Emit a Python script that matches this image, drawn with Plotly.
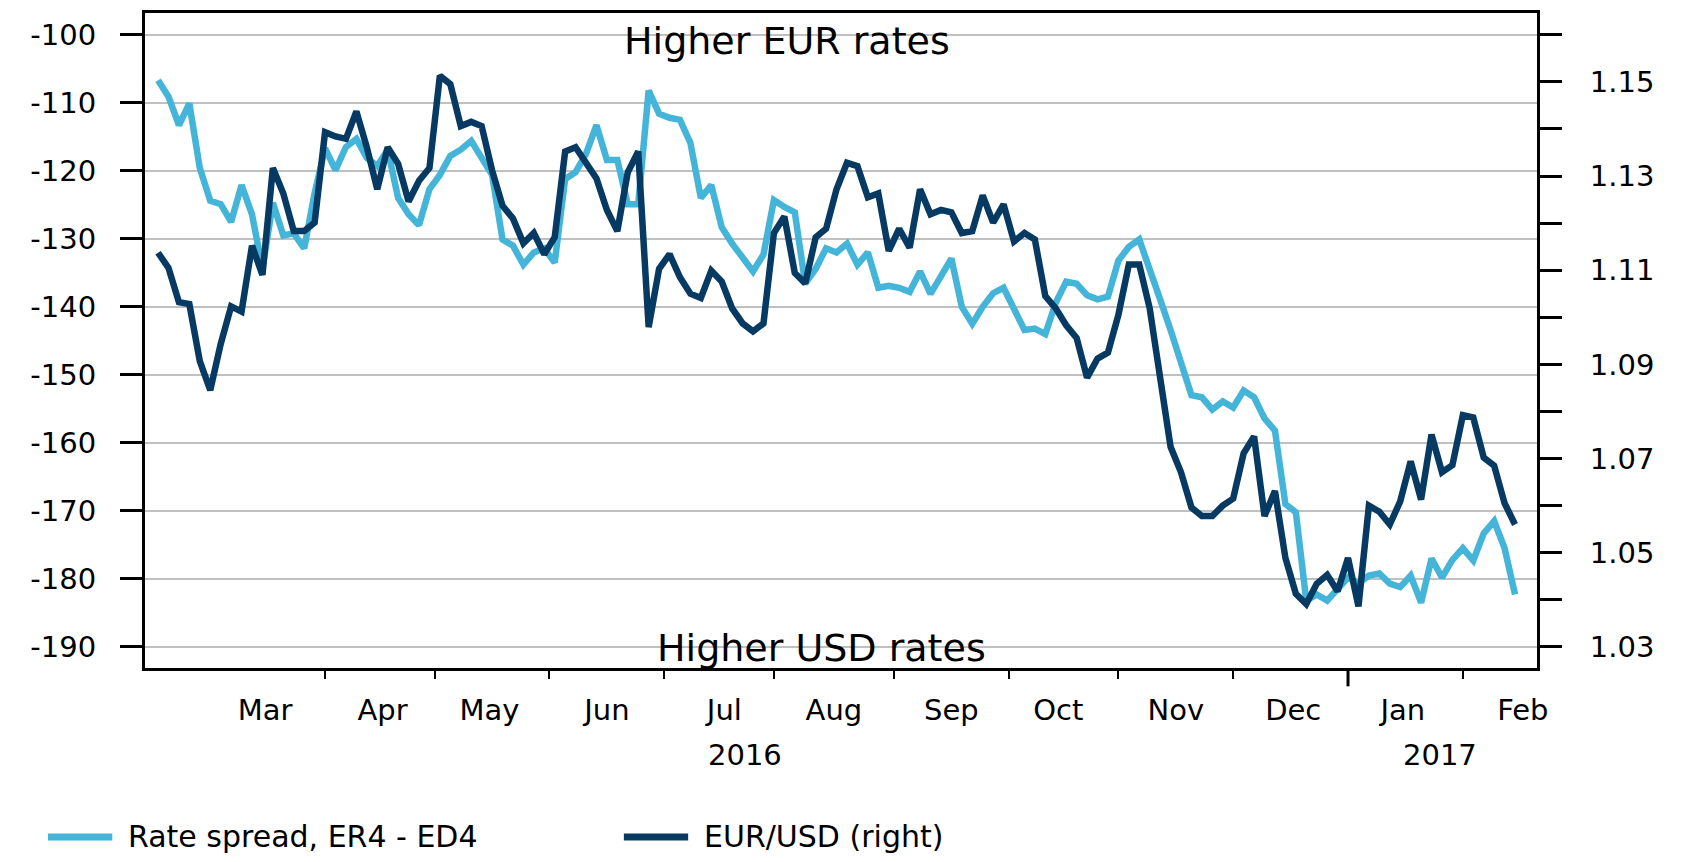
import pandas as pd
import plotly.graph_objects as go


def carregar_dados() -> pd.DataFrame:
    """
    Retorna a tabela de spread de juros e câmbio EUR/USD, lida do gráfico original.

    Um ponto a cada dois dias úteis, de 17/02/2016 a 15/02/2017.
    Spread em pontos-base (ER4 - ED4), câmbio em dólares por euro.

    Returns:
        DataFrame indexado por data, com colunas Spread e EURUSD.
    """
    spread = [
        -106.7, -109.1, -113.3, -110.1, -119.6, -124.4, -124.9, -127.5, -122.1, -126.4,
        -134.4, -124.7, -129.5, -129.2, -131.4, -123.3, -116.7, -119.9,
        -116.5, -115.3, -118.1, -119.3, -116.9, -124.0, -126.4, -128.0, -122.7, -120.6,
        -117.8, -116.9, -115.6, -118.1, -120.6, -130.1, -131.0, -133.8, -132.0,
        -131.4, -133.5, -121.2, -120.2, -117.5, -113.3, -118.4, -118.4, -124.9, -124.9,
        -108.2, -111.6, -112.2, -112.5, -115.9, -124.0, -122.1, -128.3, -130.7,
        -132.9, -134.8, -132.3, -124.3, -125.3, -126.1, -136.6, -134.4, -131.4, -132.0,
        -130.7, -133.8, -132.0, -137.2, -136.9, -137.2, -137.8, -134.8,
        -138.1, -135.4, -132.9, -140.0, -142.5, -140.0, -138.0, -137.2, -140.3, -143.4,
        -143.2, -144.0, -139.4, -136.3, -136.6, -138.3, -138.9, -138.5, -133.2,
        -131.2, -130.1, -134.8, -138.9, -143.4, -148.3, -153.0, -153.3, -155.1, -153.9,
        -154.8, -152.3, -153.3, -156.4, -158.2, -169.0, -170.2, -183.2, -182.3,
        -183.2, -181.4, -179.8, -180.7, -179.5, -179.2, -180.7, -181.2, -179.5, -183.5,
        -177.0, -179.8, -177.2, -175.5, -177.3, -173.3, -171.5, -175.5, -182.3,
    ]
    eurusd = [
        1.1137, 1.1105, 1.1032, 1.1028, 1.0907, 1.0845, 1.0943, 1.1023, 1.1012, 1.1152,
        1.1090, 1.1317, 1.1263, 1.1183, 1.1183, 1.1201, 1.1393, 1.1384,
        1.1379, 1.1437, 1.1361, 1.1272, 1.1361, 1.1326, 1.1246, 1.1290, 1.1317, 1.1513,
        1.1495, 1.1406, 1.1415, 1.1406, 1.1312, 1.1237, 1.1210, 1.1157, 1.1179,
        1.1134, 1.1170, 1.1352, 1.1361, 1.1330, 1.1295, 1.1228, 1.1183, 1.1308, 1.1352,
        1.0979, 1.1103, 1.1134, 1.1085, 1.1050, 1.1041, 1.1099, 1.1076, 1.1019,
        1.0987, 1.0970, 1.0987, 1.1179, 1.1214, 1.1094, 1.1072, 1.1170, 1.1188, 1.1272,
        1.1328, 1.1321, 1.1255, 1.1263, 1.1141, 1.1188, 1.1148, 1.1272,
        1.1219, 1.1228, 1.1223, 1.1179, 1.1183, 1.1259, 1.1201, 1.1240, 1.1161, 1.1179,
        1.1165, 1.1045, 1.1019, 1.0983, 1.0956, 1.0872, 1.0912, 1.0925, 1.1005,
        1.1112, 1.1112, 1.1019, 1.0872, 1.0725, 1.0671, 1.0596, 1.0578, 1.0578, 1.0600,
        1.0615, 1.0711, 1.0747, 1.0578, 1.0631, 1.0489, 1.0413, 1.0391, 1.0434,
        1.0453, 1.0418, 1.0489, 1.0386, 1.0600, 1.0587, 1.0560, 1.0609, 1.0694, 1.0613,
        1.0751, 1.0671, 1.0686, 1.0792, 1.0787, 1.0702, 1.0685, 1.0605, 1.0560,
    ]
    datas = pd.bdate_range("2016-02-17", periods=len(spread), freq="2B")
    return pd.DataFrame({"Spread": spread, "EURUSD": eurusd}, index=datas)


def grafico_spread_eurusd(df: pd.DataFrame) -> go.Figure:
    """
    Retorna linhas do spread de juros (eixo esquerdo) e do EUR/USD (eixo direito).

    O eixo de datas pula fins de semana, como nos gráficos de dias úteis,
    e os dois eixos verticais são alinhados: -100 com 1.16 e -190 com 1.03.
    A legenda é desenhada à mão embaixo, com traços longos como no original.

    Args:
        df: DataFrame retornado por carregar_dados, com colunas Spread e EURUSD.

    Returns:
        Figure com duas linhas, legenda embaixo e anotações de leitura.
    """
    fonte = dict(family="DejaVu Sans", size=29, color="black")
    series = [
        ("Spread", "Rate spread, ER4 - ED4", "#44B4D9", "y"),
        ("EURUSD", "EUR/USD (right)", "#063A63", "y2"),
    ]

    fig = go.Figure()

    for coluna, nome, cor, eixo in series:
        fig.add_trace(
            go.Scatter(
                x=df.index,
                y=df[coluna],
                mode="lines",
                name=nome,
                yaxis=eixo,
                line=dict(color=cor, width=6.5),
            )
        )

    esquerda = list(range(-190, -99, 10))
    direita = [round(1.03 + 0.01 * i, 2) for i in range(14)]

    fig.update_layout(
        template="plotly_white",
        width=1669,
        height=846,
        margin=dict(l=137, r=140, t=2, b=186),
        font=fonte,
        plot_bgcolor="white",
        showlegend=False,
        xaxis=dict(
            type="date",
            range=["2016-02-12 12:00", "2017-02-21 05:00"],
            rangebreaks=[dict(bounds=["sat", "mon"])],
            dtick="M1", tick0="2016-01-01",
            tickformat="%b",
            ticklabelmode="period",
            ticks="outside", ticklen=8, tickwidth=2, tickcolor="black",
            ticklabelstandoff=6,
            showline=True, linewidth=3, linecolor="black", mirror=True,
            showgrid=False, zeroline=False,
        ),
        yaxis=dict(
            range=[-193.1, -96.8],
            tickvals=esquerda,
            ticktext=[str(v) for v in esquerda],
            ticks="outside", ticklen=22, tickwidth=3, tickcolor="black",
            ticklabelstandoff=18,
            showline=True, linewidth=3, linecolor="black",
            showgrid=True, gridcolor="#C0C0C0", gridwidth=2,
            zeroline=False,
        ),
        yaxis2=dict(
            overlaying="y", side="right",
            range=[1.02552, 1.16462],
            tickvals=direita,
            ticktext=[f"{v:.2f}" if i % 2 == 0 else "" for i, v in enumerate(direita)],
            ticks="outside", ticklen=22, tickwidth=3, tickcolor="black",
            ticklabelstandoff=22,
            showline=True, linewidth=3, linecolor="black",
            showgrid=False, zeroline=False,
        ),
    )

    # traço longo na virada do ano
    fig.add_shape(
        type="line", xref="x", yref="paper",
        x0="2017-01-02", x1="2017-01-02", y0=0, y1=-0.028,
        line=dict(color="black", width=3),
    )

    # legenda: traço + texto para cada série
    for (coluna, nome, cor, eixo), x0 in zip(series, [-0.0697, 0.344]):
        fig.add_shape(
            type="line", xref="paper", yref="paper",
            x0=x0, x1=x0 + 0.0462, y0=-0.258, y1=-0.258,
            line=dict(color=cor, width=7),
        )
        fig.add_annotation(text=nome, xref="paper", yref="paper",
                           x=x0 + 0.0562, y=-0.258, xanchor="left", yanchor="middle",
                           showarrow=False, font=dict(size=30))

    fig.add_annotation(text="Higher EUR rates", xref="paper", yref="paper",
                       x=0.461, y=0.958, xanchor="center", yanchor="middle",
                       showarrow=False, font=dict(size=38))
    fig.add_annotation(text="Higher USD rates", xref="paper", yref="paper",
                       x=0.486, y=0.030, xanchor="center", yanchor="middle",
                       showarrow=False, font=dict(size=38))
    fig.add_annotation(text="2016", xref="paper", yref="paper",
                       x=0.431, y=-0.133, xanchor="center", yanchor="middle",
                       showarrow=False)
    fig.add_annotation(text="2017", xref="paper", yref="paper",
                       x=0.930, y=-0.133, xanchor="center", yanchor="middle",
                       showarrow=False)

    return fig


if __name__ == "__main__":
    print("Montando dados...")
    df = carregar_dados()
    print(f"  {len(df)} pontos, de {df.index[0].date()} a {df.index[-1].date()}")

    fig = grafico_spread_eurusd(df)
    assert isinstance(fig, go.Figure)
    assert len(fig.data) == 2
    print(f"  OK — {len(fig.data)} linhas (spread + EUR/USD)")

    fig.write_html("out.html")
    print("\nGrafico salvo em out.html.")
